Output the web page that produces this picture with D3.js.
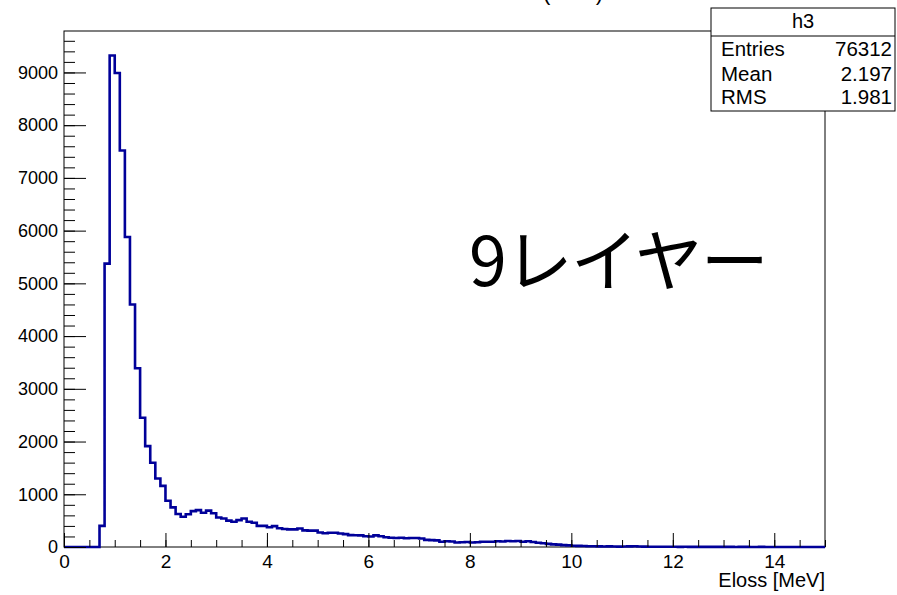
<!DOCTYPE html>
<html>
<head>
<meta charset="utf-8">
<script src="https://cdn.jsdelivr.net/npm/d3@7/dist/d3.min.js"></script>
<style>
  html, body { margin: 0; padding: 0; background: #fff; }
  svg { display: block; }
  text { font-family: "Liberation Sans", Arial, Helvetica, sans-serif; fill: #000; }
</style>
</head>
<body>
<svg id="chart" width="897" height="595"></svg>
<script>
// Histogram h3: energy loss, 150 bins of 0.1 MeV from 0 to 15 MeV
const xMin = 0, xMax = 15, nBins = 150;
const counts = [
  0, 0, 0, 0, 0, 0, 0, 400, 5375, 9320,
  8990, 7520, 5880, 4600, 3390, 2450, 1914, 1597, 1300, 1160,
  877, 752, 625, 575, 620, 680, 700, 650, 690, 640,
  560, 540, 500, 480, 510, 540, 480, 460, 400, 400,
  375, 395, 355, 340, 335, 335, 350, 315, 310, 310,
  275, 260, 270, 270, 255, 245, 225, 222, 220, 205,
  200, 220, 205, 185, 175, 170, 175, 165, 170, 170,
  160, 135, 130, 125, 100, 110, 105, 85, 90, 95,
  85, 90, 100, 100, 100, 110, 105, 115, 110, 115,
  100, 110, 95, 80, 70, 60, 50, 45, 35, 30,
  25, 22, 18, 15, 15, 12, 10, 12, 10, 8,
  10, 12, 14, 10, 8, 6, 5, 6, 4, 5,
  4, 3, 4, 3, 3, 2, 3, 2, 2, 3,
  2, 2, 1, 2, 2, 1, 1, 2, 1, 1,
  1, 0, 1, 1, 0, 1, 0, 0, 1, 0
];
const xTickValues = [0, 2, 4, 6, 8, 10, 12, 14];
const yTickValues = [0, 1000, 2000, 3000, 4000, 5000, 6000, 7000, 8000, 9000];
const statsName = "h3";
const statsRows = [
  ["Entries", "76312"],
  ["Mean", "2.197"],
  ["RMS", "1.981"]
];
const xTitle = "Eloss [MeV]";
const histTitle = "Eloss (MeV)";
const annotation = "9レイヤー";

const binWidth = (xMax - xMin) / nBins;

const svg = d3.select("#chart");
const frame = { left: 64, right: 825, top: 31, bottom: 547 };

const x = d3.scaleLinear().domain([xMin, xMax]).range([frame.left, frame.right]);
const yMax = d3.max(counts) * 1.05;
const y = d3.scaleLinear().domain([0, yMax]).range([frame.bottom, frame.top]);

// histogram title (mostly above the canvas edge)
svg.append("text")
  .attr("x", 603).attr("y", 0)
  .attr("text-anchor", "end")
  .style("font-size", "22px")
  .text(histTitle);

// frame
svg.append("rect")
  .attr("x", frame.left).attr("y", frame.top)
  .attr("width", frame.right - frame.left)
  .attr("height", frame.bottom - frame.top)
  .attr("fill", "none").attr("stroke", "#000").attr("stroke-width", 1);

// step outline of the histogram
const pts = [[xMin, 0]];
counts.forEach((c, i) => {
  const lo = xMin + i * binWidth, hi = lo + binWidth;
  pts.push([lo, c], [hi, c]);
});
pts.push([xMax, 0]);
svg.append("path")
  .datum(pts)
  .attr("fill", "none")
  .attr("stroke", "#000099")
  .attr("stroke-width", 2.6)
  .attr("stroke-linejoin", "miter")
  .attr("d", d3.line().x(d => x(d[0])).y(d => y(d[1])));

// x axis: major ticks every 2, minor every 0.5, drawn inward
const xAxisG = svg.append("g").attr("transform", `translate(0,${frame.bottom})`);
xAxisG.call(d3.axisBottom(x).tickValues(d3.range(0, 15.0001, 0.5)).tickSize(-7).tickFormat(""))
  .call(g => g.select(".domain").remove());
xAxisG.append("g")
  .call(d3.axisBottom(x).tickValues(xTickValues).tickSize(-14).tickPadding(8).tickFormat(d3.format("d")))
  .call(g => g.select(".domain").remove())
  .call(g => g.selectAll("text").style("font-size", "19px").attr("font-family", null));
xAxisG.selectAll("line").attr("stroke", "#000");

// y axis: major ticks every 1000, minor every 200, drawn inward
const yAxisG = svg.append("g").attr("transform", `translate(${frame.left},0)`);
yAxisG.call(d3.axisLeft(y).tickValues(d3.range(0, yMax, 200)).tickSize(-11).tickFormat(""))
  .call(g => g.select(".domain").remove());
yAxisG.append("g")
  .call(d3.axisLeft(y).tickValues(yTickValues).tickSize(-22).tickPadding(6).tickFormat(d3.format("d")))
  .call(g => g.select(".domain").remove())
  .call(g => g.selectAll("text").style("font-size", "18px").attr("font-family", null));
yAxisG.selectAll("line").attr("stroke", "#000");
svg.selectAll(".tick text").attr("fill", "#000");

// x axis title
svg.append("text")
  .attr("x", frame.right).attr("y", 587)
  .attr("text-anchor", "end")
  .style("font-size", "20px")
  .text(xTitle);

// annotation
svg.append("text")
  .attr("x", 469).attr("y", 286)
  .style("font-family", "'Noto Sans CJK JP', sans-serif")
  .style("font-size", "68px")
  .style("letter-spacing", "-2px")
  .text(annotation);

// statistics box
const box = { x: 711, y: 8, w: 184, h: 103, head: 28 };
const sb = svg.append("g");
sb.append("rect")
  .attr("x", box.x).attr("y", box.y).attr("width", box.w).attr("height", box.h)
  .attr("fill", "#fff").attr("stroke", "#000").attr("stroke-width", 1);
sb.append("line")
  .attr("x1", box.x).attr("x2", box.x + box.w)
  .attr("y1", box.y + box.head).attr("y2", box.y + box.head)
  .attr("stroke", "#000");
sb.append("text")
  .attr("x", box.x + box.w / 2).attr("y", 28)
  .attr("text-anchor", "middle")
  .style("font-size", "20px")
  .text(statsName);
const rowBase = [56, 81, 104];
statsRows.forEach((r, i) => {
  sb.append("text").attr("x", box.x + 10).attr("y", rowBase[i])
    .style("font-size", "20.5px").text(r[0]);
  sb.append("text").attr("x", box.x + box.w - 3).attr("y", rowBase[i])
    .attr("text-anchor", "end").style("font-size", "20.5px").text(r[1]);
});
</script>
</body>
</html>
